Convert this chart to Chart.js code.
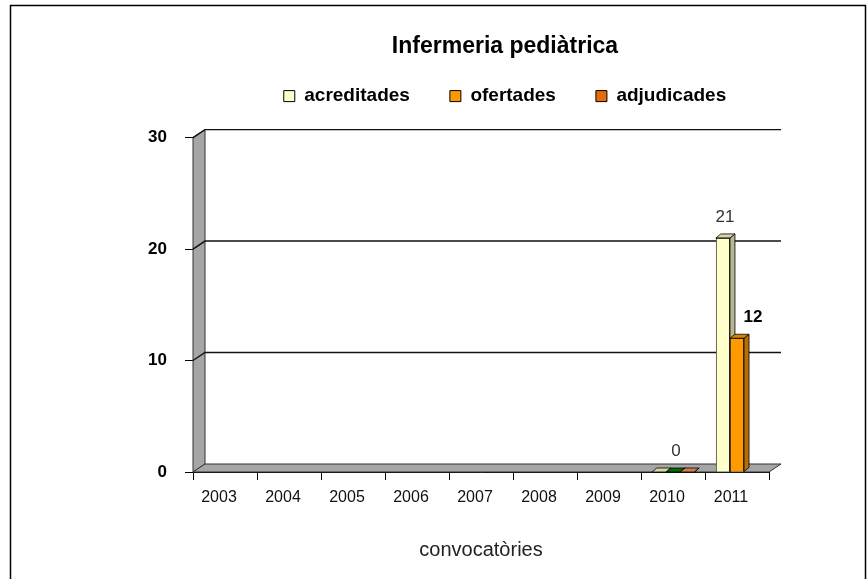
<!DOCTYPE html>
<html>
<head>
<meta charset="utf-8">
<script src="https://cdn.jsdelivr.net/npm/chart.js@4/dist/chart.umd.min.js"></script>
<style>
  html, body { margin: 0; padding: 0; background: #fff; }
  #wrap { width: 868px; height: 579px; }
</style>
</head>
<body>
<div id="wrap"><canvas id="grafic" width="868" height="579"></canvas></div>
<script>
// Dades del gràfic
const categories = ['2003', '2004', '2005', '2006', '2007', '2008', '2009', '2010', '2011'];
const acreditades = [null, null, null, null, null, null, null, 0, 21];
const ofertades = [null, null, null, null, null, null, null, 0, 12];
const adjudicades = [null, null, null, null, null, null, null, 0, null];
const yTicks = [0, 10, 20, 30];

// Profunditat de l'efecte 3D (parets i barres)
const WALL_DX = 12, WALL_DY = -8;
const BAR_DX = 5, BAR_DY = -4;

const FONT = "'Liberation Sans', Arial, sans-serif";

// Colors de cada serie: cara frontal, lateral i superior
const faces = [
  { front: '#FFFFCC', side: '#B8B890', top: '#D6D6A6' },
  { front: '#FF9900', side: '#B86E00', top: '#D98200' },
  { front: '#E46C0A', side: '#A24D07', top: '#D08050' }
];

// Parets, terra i línies de graella en perspectiva
const wallsPlugin = {
  id: 'walls',
  beforeDatasetsDraw(chart) {
    const ctx = chart.ctx;
    const { left, right, bottom } = chart.chartArea;
    const y = chart.scales.y;
    const top = y.getPixelForValue(yTicks[yTicks.length - 1]);
    ctx.save();
    ctx.lineWidth = 1;
    ctx.strokeStyle = '#333';
    // paret esquerra
    ctx.fillStyle = '#A6A6A6';
    ctx.beginPath();
    ctx.moveTo(left, bottom);
    ctx.lineTo(left, top);
    ctx.lineTo(left + WALL_DX, top + WALL_DY);
    ctx.lineTo(left + WALL_DX, bottom + WALL_DY);
    ctx.closePath();
    ctx.fill();
    ctx.stroke();
    // terra
    ctx.beginPath();
    ctx.moveTo(left, bottom);
    ctx.lineTo(right, bottom);
    ctx.lineTo(right + WALL_DX, bottom + WALL_DY);
    ctx.lineTo(left + WALL_DX, bottom + WALL_DY);
    ctx.closePath();
    ctx.fill();
    ctx.stroke();
    // graella a la paret del fons
    ctx.strokeStyle = '#111';
    ctx.lineWidth = 1.4;
    yTicks.slice(1).forEach(v => {
      const py = y.getPixelForValue(v);
      ctx.beginPath();
      ctx.moveTo(left, py);
      ctx.lineTo(left + WALL_DX, py + WALL_DY);
      ctx.lineTo(right + WALL_DX, py + WALL_DY);
      ctx.stroke();
    });
    ctx.restore();
  },
  afterDatasetsDraw(chart) {
    const ctx = chart.ctx;
    ctx.save();
    chart.data.datasets.forEach((ds, di) => {
      const meta = chart.getDatasetMeta(di);
      meta.data.forEach((bar, i) => {
        if (ds.data[i] === null) return;
        const { x, y, base, width } = bar.getProps(['x', 'y', 'base', 'width'], true);
        const l = x - width / 2, r = x + width / 2;
        const col = di === 1 && categories[i] === '2010' ? { front: '#008000', side: '#005000', top: '#007000' } : faces[di];
        bar.draw(ctx);
        ctx.lineWidth = 0.8;
        ctx.strokeStyle = '#000';
        // lateral
        ctx.fillStyle = col.side;
        ctx.beginPath();
        ctx.moveTo(r, y);
        ctx.lineTo(r + BAR_DX, y + BAR_DY);
        ctx.lineTo(r + BAR_DX, base + BAR_DY);
        ctx.lineTo(r, base);
        ctx.closePath();
        ctx.fill();
        ctx.stroke();
        // tapa
        ctx.fillStyle = col.top;
        ctx.beginPath();
        ctx.moveTo(l, y);
        ctx.lineTo(r, y);
        ctx.lineTo(r + BAR_DX, y + BAR_DY);
        ctx.lineTo(l + BAR_DX, y + BAR_DY);
        ctx.closePath();
        ctx.fill();
        ctx.stroke();
      });
    });

    // etiquetes de valors
    const etiqueta = (di, i, weight, color, ox, oy) => {
      const bar = chart.getDatasetMeta(di).data[i];
      ctx.font = weight + ' 17px ' + FONT;
      ctx.fillStyle = color;
      ctx.textAlign = 'center';
      ctx.textBaseline = 'middle';
      ctx.fillText(String(chart.data.datasets[di].data[i]), bar.x + ox, bar.y + oy);
    };
    const i2010 = categories.indexOf('2010');
    const i2011 = categories.indexOf('2011');
    etiqueta(1, i2010, 'normal', '#333', 3, -21);
    etiqueta(0, i2011, 'normal', '#333', 2, -21);
    etiqueta(1, i2011, 'bold', '#000', 16, -21);
    ctx.restore();
  }
};

// Marc exterior
const marcPlugin = {
  id: 'marc',
  beforeDraw(chart) {
    const ctx = chart.ctx;
    ctx.save();
    ctx.strokeStyle = '#000';
    ctx.lineWidth = 1.5;
    ctx.strokeRect(10.5, 5.5, 855, 600);
    ctx.restore();
  }
};

new Chart(document.getElementById('grafic'), {
  type: 'bar',
  data: {
    labels: categories,
    datasets: [
      { label: 'acreditades', data: acreditades, xAxisID: 'x', yAxisID: 'y',
        backgroundColor: faces[0].front },
      { label: 'ofertades', data: ofertades, xAxisID: 'x', yAxisID: 'y',
        backgroundColor: c => categories[c.dataIndex] === '2010' ? '#008000' : faces[1].front },
      { label: 'adjudicades', data: adjudicades, xAxisID: 'x', yAxisID: 'y',
        backgroundColor: faces[2].front }
    ]
  },
  options: {
    responsive: false,
    animation: false,
    events: [],
    datasets: {
      bar: {
        borderColor: '#000',
        borderWidth: 0.8,
        categoryPercentage: 0.66,
        barPercentage: 1.0
      }
    },
    layout: { padding: { left: 142, right: 0, top: 0, bottom: 0 } },
    plugins: {
      title: {
        display: true,
        text: 'Infermeria pediàtrica',
        color: '#000',
        font: { family: FONT, size: 23, weight: 'bold' },
        padding: { top: 33, bottom: -14 }
      },
      legend: {
        display: true,
        labels: {
          color: '#000',
          font: { family: FONT, size: 19, weight: 'bold' },
          boxWidth: 11,
          boxHeight: 11,
          padding: 40,
          generateLabels: chart => chart.data.datasets.map((ds, i) => ({
            text: ds.label,
            fillStyle: faces[i].front,
            strokeStyle: '#000',
            lineWidth: 1,
            datasetIndex: i
          }))
        }
      },
      tooltip: { enabled: false }
    },
    scales: {
      // eixos buits per deixar espai sota la llegenda i a la dreta
      espai: {
        type: 'category',
        position: 'top',
        display: true,
        grid: { display: false },
        border: { display: false },
        ticks: { display: false },
        afterFit: s => { s.height = 22; }
      },
      espaiDreta: {
        type: 'linear',
        position: 'right',
        display: true,
        grid: { display: false },
        border: { display: false },
        ticks: { display: false },
        afterFit: s => { s.width = 99; }
      },
      x: {
        grid: { display: true, drawOnChartArea: false, drawTicks: true, tickLength: 8, color: '#000', offset: true },
        border: { display: true, color: '#000', width: 1 },
        ticks: { color: '#111', font: { family: FONT, size: 16 }, padding: 8, labelOffset: -6, maxRotation: 0 },
        title: {
          display: true,
          text: 'convocatòries',
          color: '#222',
          font: { family: FONT, size: 20 },
          padding: { top: 0, bottom: 17 }
        },
        afterFit: s => { s.height = 107; }
      },
      y: {
        min: 0,
        max: 30,
        afterBuildTicks: s => { s.ticks = yTicks.map(v => ({ value: v })); },
        grid: { display: true, drawOnChartArea: false, drawTicks: true, tickLength: 8, color: '#000' },
        border: { display: true, color: '#000', width: 1 },
        ticks: { color: '#000', font: { family: FONT, size: 17, weight: 'bold' }, padding: 18 },
        afterFit: s => { s.width = 51; }
      }
    }
  },
  plugins: [wallsPlugin, marcPlugin]
});
</script>
</body>
</html>
